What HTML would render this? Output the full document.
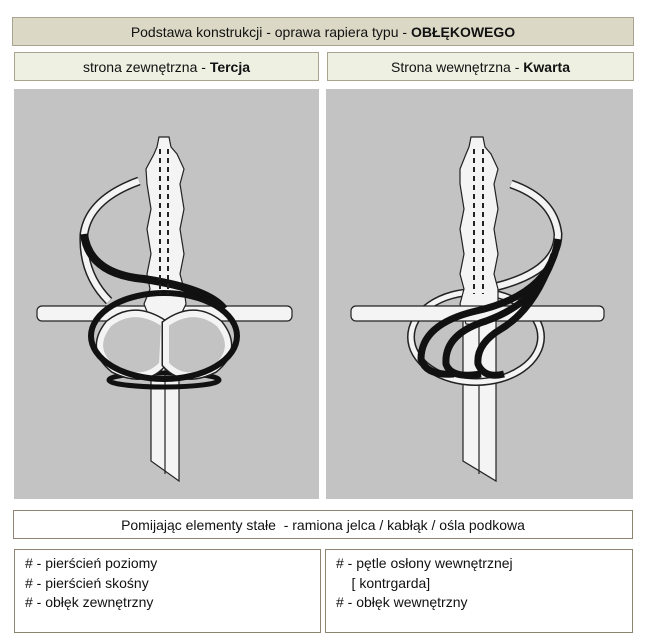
<!DOCTYPE html>
<html><head><meta charset="utf-8"><style>
body{margin:0;width:648px;height:644px;background:#fff;font-family:"Liberation Sans",Tahoma,sans-serif;font-size:14px;color:#111;position:relative;overflow:hidden}
.b{position:absolute;box-sizing:border-box;border:1px solid #a9a38f;display:flex;align-items:center;justify-content:center}
.t{background:#dcd8c6}
.s{background:#eef0e2}
.p{position:absolute;background:#c3c3c3}
.l{position:absolute;box-sizing:border-box;border:1px solid #8c8470;padding:4px 0 0 10px;line-height:19.5px;font-size:14px}
</style></head><body>
<div class="b t" style="left:12px;top:17px;width:622px;height:29px">Podstawa konstrukcji - oprawa rapiera typu -&nbsp;<b>OBŁĘKOWEGO</b></div>
<div class="b s" style="left:14px;top:52px;width:305px;height:29px">strona zewnętrzna -&nbsp;<b>Tercja</b></div>
<div class="b s" style="left:327px;top:52px;width:307px;height:29px">Strona wewnętrzna -&nbsp;<b>Kwarta</b></div>

<svg class="p" style="left:14px;top:89px" width="305" height="410" viewBox="0 0 305 410">
<g stroke="#222" stroke-width="1.2" fill="#f4f4f4">
<path d="M137 233 L165 233 L165 392 L137 372 Z"/>
<line x1="151" y1="233" x2="151" y2="385"/>
<path d="M125 92 Q75 110 70 145 Q68 185 95 212" fill="none" stroke="#222" stroke-width="9"/>
<path d="M125 92 Q75 110 70 145 Q68 185 95 212" fill="none" stroke="#f4f4f4" stroke-width="6"/>
<rect x="23" y="217" width="255" height="15" rx="5"/>
<path d="M145 48 L155 48 L157 58 L163 65 L170 80 L166 95 L170 120 L166 140 L170 165 L166 185 L170 200 L172 215 L160 240 L150 242 L140 240 L130 215 L136 200 L133 185 L137 165 L133 140 L137 120 L133 95 L132 80 L140 65 L143 58 Z"/>
<ellipse cx="150" cy="291" rx="55" ry="7" fill="none" stroke="#111" stroke-width="5"/>
<path d="M150 235 Q120 215 95 235 Q75 260 100 280 Q130 295 148 275 Z" fill="#c3c3c3" stroke="#222" stroke-width="9"/>
<path d="M150 235 Q120 215 95 235 Q75 260 100 280 Q130 295 148 275 Z" fill="#c3c3c3" stroke="#f4f4f4" stroke-width="6"/>
<path d="M152 235 Q180 215 205 235 Q225 260 200 280 Q170 295 152 275 Z" fill="#c3c3c3" stroke="#222" stroke-width="9"/>
<path d="M152 235 Q180 215 205 235 Q225 260 200 280 Q170 295 152 275 Z" fill="#c3c3c3" stroke="#f4f4f4" stroke-width="6"/>
<ellipse cx="150" cy="247" rx="73" ry="43" fill="none" stroke="#111" stroke-width="6"/>
<path d="M70 145 Q75 185 130 190 Q195 200 210 220" fill="none" stroke="#111" stroke-width="8"/>
</g>
<g stroke="#222" stroke-width="2" stroke-dasharray="5 4"><line x1="146" y1="60" x2="146" y2="205"/><line x1="154" y1="60" x2="154" y2="205"/></g>
</svg>

<svg class="p" style="left:326px;top:89px" width="307" height="410" viewBox="0 0 307 410">
<g stroke="#222" stroke-width="1.2" fill="#f4f4f4">
<path d="M137 230 L170 230 L170 392 L137 372 Z"/>
<line x1="153" y1="230" x2="153" y2="385"/>
<ellipse cx="150" cy="248" rx="65" ry="45" fill="none" stroke="#222" stroke-width="8"/>
<ellipse cx="150" cy="248" rx="65" ry="45" fill="none" stroke="#f4f4f4" stroke-width="5"/>
<path d="M185 95 Q228 110 232 145 Q232 185 160 200" fill="none" stroke="#222" stroke-width="9"/>
<path d="M185 95 Q228 110 232 145 Q232 185 160 200" fill="none" stroke="#f4f4f4" stroke-width="6"/>
<path d="M145 48 L157 48 L159 58 L165 65 L172 80 L168 95 L172 120 L168 140 L172 165 L168 185 L172 200 L172 215 L160 235 L150 236 L140 235 L134 215 L138 200 L134 185 L138 165 L134 140 L138 120 L134 95 L134 80 L140 65 L143 58 Z"/>
<rect x="25" y="217" width="253" height="15" rx="5"/>
</g>
<g fill="none" stroke="#111" stroke-width="7">
<path d="M232 150 Q225 205 150 222 Q95 235 95 270 Q100 287 128 285"/>
<path d="M228 165 Q215 212 160 232 Q118 245 120 275 Q125 290 155 285"/>
<path d="M222 180 Q205 222 175 240 Q150 255 152 275 Q158 290 178 285"/>
</g>
<g stroke="#222" stroke-width="2" stroke-dasharray="5 4"><line x1="148" y1="60" x2="148" y2="205"/><line x1="157" y1="60" x2="157" y2="205"/></g>
</svg>

<div class="b" style="left:13px;top:510px;width:620px;height:29px;border-color:#8c8470">Pomijając elementy stałe&nbsp; - ramiona jelca / kabłąk / ośla podkowa</div>
<div class="l" style="left:14px;top:549px;width:307px;height:84px">#&nbsp;- pierścień poziomy<br>#&nbsp;- pierścień skośny<br>#&nbsp;- obłęk zewnętrzny</div>
<div class="l" style="left:325px;top:549px;width:308px;height:84px">#&nbsp;- pętle osłony wewnętrznej<br>&nbsp;&nbsp;&nbsp;&nbsp;[ kontrgarda]<br>#&nbsp;- obłęk wewnętrzny</div>
</body></html>
